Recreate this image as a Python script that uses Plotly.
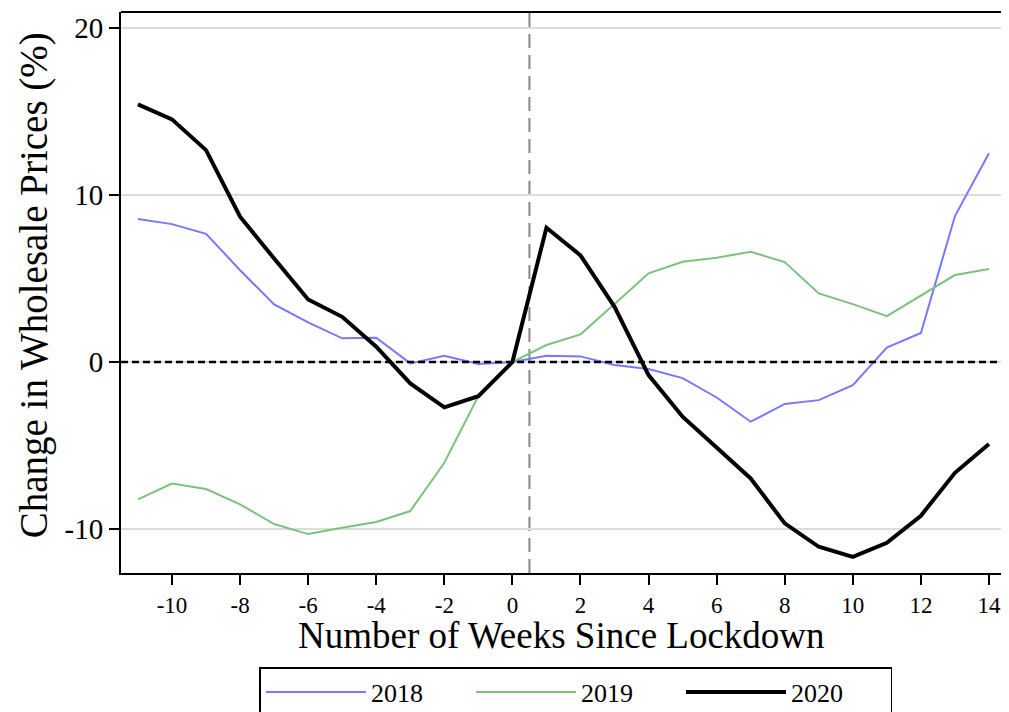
import plotly.graph_objects as go

weeks = list(range(-11, 15))

prices_2018 = [8.56, 8.26, 7.68, 5.5, 3.45, 2.38, 1.42, 1.46, -0.08, 0.38, -0.12, 0.0,
               0.38, 0.34, -0.18, -0.42, -0.96, -2.12, -3.57, -2.51, -2.28, -1.38, 0.86, 1.74, 8.74, 12.5]
prices_2019 = [-8.22, -7.27, -7.6, -8.52, -9.7, -10.3, -9.92, -9.58, -8.92, -6.03, -2.04, 0.0,
               1.02, 1.66, 3.47, 5.31, 6.01, 6.25, 6.6, 5.99, 4.11, 3.47, 2.75, 3.97, 5.21, 5.57]
prices_2020 = [15.43, 14.53, 12.69, 8.7, 6.2, 3.75, 2.71, 0.92, -1.28, -2.71, -2.04, 0.0,
               8.04, 6.39, 3.31, -0.78, -3.27, -5.13, -6.97, -9.66, -11.06, -11.66, -10.82, -9.2, -6.63, -4.91]

x_ticks = list(range(-10, 15, 2))
x_tick_labels = ["-10", "-8", "-6", "-4", "-2", "0", "2", "4", "6", "8", "10", "12", "14"]
y_ticks = [-10, 0, 10, 20]
y_tick_labels = ["-10", "0", "10", "20"]

serif = "Liberation Serif"

fig = go.Figure()
fig.add_trace(go.Scatter(x=weeks, y=prices_2018, mode="lines", name="2018",
                         line=dict(color="#7878ff", width=2)))
fig.add_trace(go.Scatter(x=weeks, y=prices_2019, mode="lines", name="2019",
                         line=dict(color="#7cc27c", width=2)))
fig.add_trace(go.Scatter(x=weeks, y=prices_2020, mode="lines", name="2020",
                         line=dict(color="black", width=4)))

# reference lines
fig.add_hline(y=0, line=dict(color="black", width=2.5, dash="7px,4px"), layer="above")
fig.add_vline(x=0.5, line=dict(color="#888888", width=2, dash="14px,7px"), layer="below")
# top border
fig.add_shape(type="line", xref="paper", yref="paper", x0=0, x1=1, y0=1, y1=1,
              line=dict(color="black", width=2))

fig.update_xaxes(range=[-11.498, 14.353], tickvals=x_ticks, ticktext=x_tick_labels,
                 ticks="outside", ticklen=10, tickwidth=1.5,
                 tickcolor="black", showline=True, linecolor="black", linewidth=2,
                 showgrid=False, zeroline=False,
                 tickfont=dict(family=serif, size=23, color="black"))
fig.update_yaxes(range=[-12.63, 20.96], tickvals=y_ticks, ticktext=y_tick_labels,
                 ticks="outside", ticklen=10, tickwidth=1.5,
                 tickcolor="black", showline=True, linecolor="black", linewidth=2,
                 showgrid=True, gridcolor="#dcdcdc", gridwidth=2, zeroline=False,
                 tickfont=dict(family=serif, size=29, color="black"))

fig.add_annotation(text="Number of Weeks Since Lockdown", xref="paper", yref="paper",
                   x=0.5, y=-0.112, xanchor="center", yanchor="middle", showarrow=False,
                   font=dict(family=serif, size=37, color="black"))
fig.add_annotation(text="Change in Wholesale Prices (%)", xref="paper", yref="paper",
                   x=-0.0985, y=0.5134, xanchor="center", yanchor="middle", showarrow=False,
                   textangle=-90, font=dict(family=serif, size=39, color="black"))

fig.update_layout(
    width=993, height=704,
    margin=dict(l=113, r=0, t=4, b=139, autoexpand=False),
    plot_bgcolor="white", paper_bgcolor="white",
    legend=dict(orientation="h", x=0.517, xanchor="center", y=-0.1676, yanchor="top",
                bordercolor="black", borderwidth=1.5,
                font=dict(family=serif, size=26, color="black"),
                itemwidth=100, entrywidth=95, traceorder="normal"),
)

fig.write_html("out.html")
